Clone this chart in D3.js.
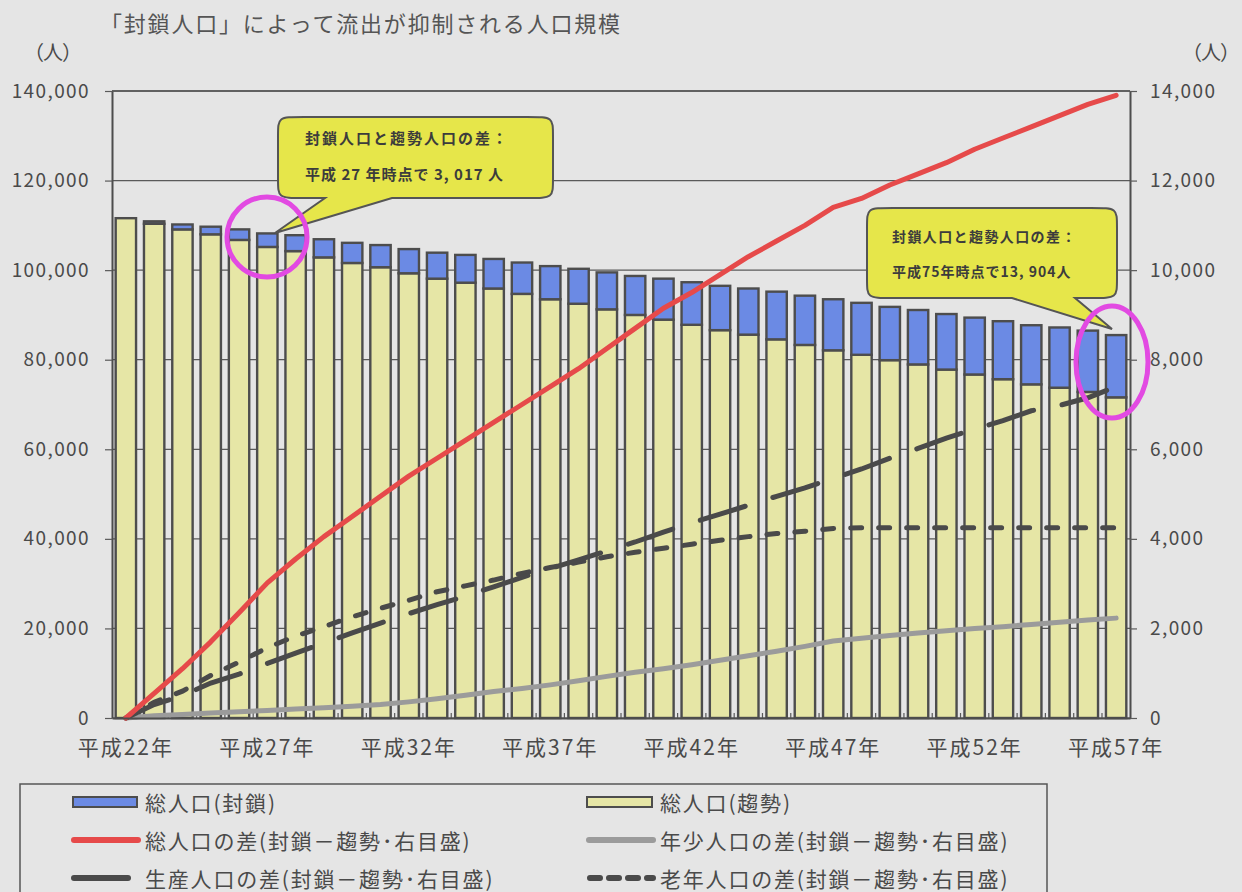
<!DOCTYPE html>
<html lang="ja">
<head>
<meta charset="utf-8">
<script src="https://cdn.jsdelivr.net/npm/d3@7"></script>
<style>
  html, body { margin: 0; padding: 0; background: #e5e5e5; }
  svg { display: block; font-family: "Noto Sans CJK JP", "Noto Sans", sans-serif; }
</style>
</head>
<body>
<svg id="chart" width="1242" height="892"></svg>
<script>
// ---------------- DATA ----------------
const categories = ["平成22年","平成23年","平成24年","平成25年","平成26年","平成27年","平成28年","平成29年","平成30年","平成31年",
  "平成32年","平成33年","平成34年","平成35年","平成36年","平成37年","平成38年","平成39年","平成40年","平成41年",
  "平成42年","平成43年","平成44年","平成45年","平成46年","平成47年","平成48年","平成49年","平成50年","平成51年",
  "平成52年","平成53年","平成54年","平成55年","平成56年","平成57年"];
const xTickLabels = ["平成22年","平成27年","平成32年","平成37年","平成42年","平成47年","平成52年","平成57年"];

// 総人口(封鎖) left axis
const blockedTotal = [111600,110900,110200,109700,109100,108200,107800,106900,106100,105600,
  104700,103900,103400,102500,101700,100900,100300,99500,98700,98100,
  97300,96500,95900,95200,94300,93500,92700,91800,91100,90200,
  89400,88600,87700,87200,86500,85500];
// 総人口(趨勢) left axis
const trendTotal = [111600,110350,109100,108000,106750,105180,104250,102850,101600,100650,
  99300,98100,97200,95900,94700,93500,92500,91250,90000,88950,
  87800,86600,85600,84550,83300,82100,81100,79900,78950,77800,
  76700,75650,74500,73750,72800,71600];
// right axis series
const diffTotal = [0,550,1100,1700,2350,3017,3550,4050,4500,4950,
  5400,5800,6200,6600,7000,7400,7800,8250,8700,9150,
  9500,9900,10300,10650,11000,11400,11600,11900,12150,12400,
  12700,12950,13200,13450,13700,13904];
const diffYouth = [0,50,80,110,140,170,200,230,260,300,
  360,430,510,590,660,740,830,930,1020,1100,
  1190,1290,1390,1490,1600,1720,1780,1840,1900,1950,
  2000,2040,2090,2140,2190,2230];
const diffWorking = [0,300,500,780,980,1220,1450,1670,1900,2120,
  2330,2530,2720,2930,3140,3340,3530,3730,3930,4150,
  4360,4550,4750,4950,5140,5350,5560,5800,6020,6250,
  6450,6640,6860,6980,7150,7400];
const diffElderly = [0,350,600,950,1250,1570,1830,2040,2260,2450,
  2630,2820,2950,3080,3230,3360,3480,3600,3700,3790,
  3880,3970,4050,4120,4170,4230,4250,4250,4250,4250,
  4250,4250,4250,4250,4250,4250];

const leftTicks = [0,20000,40000,60000,80000,100000,120000,140000];
const rightTicks = [0,2000,4000,6000,8000,10000,12000,14000];

const titleText = "「封鎖人口」によって流出が抑制される人口規模";
const unitText = "（人）";
const callout1 = ["封鎖人口と趨勢人口の差：", "平成 27 年時点で 3, 017 人"];
const callout2 = ["封鎖人口と趨勢人口の差：", "平成75年時点で13, 904人"];
const legendLabels = ["総人口(封鎖)","総人口(趨勢)","総人口の差(封鎖－趨勢･右目盛)","年少人口の差(封鎖－趨勢･右目盛)",
  "生産人口の差(封鎖－趨勢･右目盛)","老年人口の差(封鎖－趨勢･右目盛)"];

// ---------------- STYLE ----------------
const C = {
  blue: "#6b8ae4", yellow: "#e6e6a6", outline: "#4d4d4d", red: "#e64a4a",
  gray: "#9b9b9b", dark: "#4a4a4a", grid: "#5a5a5a", text: "#4a4a4a",
  bubble: "#e6e64a", magenta: "#e24ae2"
};

const svg = d3.select("#chart");
const L = 112, R = 1130, T = 91, B = 718;

const x = d3.scaleBand().domain(categories).range([L, R]).paddingInner(0.28).paddingOuter(0.13);
const yL = d3.scaleLinear().domain([0, 140000]).range([B, T]);
const yR = d3.scaleLinear().domain([0, 14000]).range([B, T]);
const cx = c => x(c) + x.bandwidth() / 2;

// title
svg.append("text").attr("x", 100).attr("y", 22).attr("dominant-baseline", "central")
  .attr("font-size", 22).attr("letter-spacing", 1.8).attr("fill", "#555").text(titleText);
svg.append("text").attr("x", 24).attr("y", 51).attr("dominant-baseline", "central")
  .attr("font-size", 20).attr("letter-spacing", -1).attr("fill", C.text).text(unitText);
svg.append("text").attr("x", 1182).attr("y", 51).attr("dominant-baseline", "central")
  .attr("font-size", 20).attr("letter-spacing", -1).attr("fill", C.text).text(unitText);

// gridlines
svg.append("g").selectAll("line").data(leftTicks).join("line")
  .attr("x1", L).attr("x2", R).attr("y1", d => yL(d)).attr("y2", d => yL(d))
  .attr("stroke", C.grid).attr("stroke-width", 1.2);

// bars
const barG = svg.append("g");
barG.selectAll("rect.trend").data(categories).join("rect").attr("class", "trend")
  .attr("x", d => x(d)).attr("width", x.bandwidth())
  .attr("y", (d, i) => yL(trendTotal[i])).attr("height", (d, i) => yL(0) - yL(trendTotal[i]))
  .attr("fill", C.yellow).attr("stroke", C.outline).attr("stroke-width", 2.4);
barG.selectAll("rect.blocked").data(categories).join("rect").attr("class", "blocked")
  .attr("x", d => x(d)).attr("width", x.bandwidth())
  .attr("y", (d, i) => yL(blockedTotal[i]))
  .attr("height", (d, i) => Math.max(0, yL(trendTotal[i]) - yL(blockedTotal[i])))
  .attr("fill", C.blue).attr("stroke", C.outline).attr("stroke-width", 2.4)
  .attr("display", (d, i) => blockedTotal[i] > trendTotal[i] ? null : "none");

// small category ticks at bottom
svg.append("g").selectAll("line").data(categories.slice(1)).join("line")
  .attr("x1", d => x(d) - x.step() * x.paddingInner() / 2)
  .attr("x2", d => x(d) - x.step() * x.paddingInner() / 2)
  .attr("y1", B).attr("y2", B - 5).attr("stroke", C.grid).attr("stroke-width", 1.2);

// lines (right axis)
const lineGen = arr => d3.line().x((d, i) => cx(categories[i])).y(d => yR(d))(arr);
svg.append("path").attr("d", lineGen(diffYouth)).attr("fill", "none")
  .attr("stroke", C.gray).attr("stroke-width", 5).attr("stroke-linejoin", "round").attr("stroke-linecap", "round");
svg.append("path").attr("d", lineGen(diffElderly)).attr("fill", "none")
  .attr("stroke", C.dark).attr("stroke-width", 5).attr("stroke-linecap", "round")
  .attr("stroke-dasharray", "11,17");
svg.append("path").attr("d", lineGen(diffWorking)).attr("fill", "none")
  .attr("stroke", C.dark).attr("stroke-width", 5).attr("stroke-linecap", "round")
  .attr("stroke-dasharray", "47,29");
svg.append("path").attr("d", lineGen(diffTotal)).attr("fill", "none")
  .attr("stroke", C.red).attr("stroke-width", 5).attr("stroke-linejoin", "round").attr("stroke-linecap", "round");

// axes
const axL = svg.append("g").attr("transform", `translate(${L},0)`)
  .call(d3.axisLeft(yL).tickValues(leftTicks).tickFormat(d3.format(",")).tickSize(7).tickSizeOuter(0).tickPadding(15));
const axR = svg.append("g").attr("transform", `translate(${R},0)`)
  .call(d3.axisRight(yR).tickValues(rightTicks).tickFormat(d3.format(",")).tickSize(7).tickSizeOuter(0).tickPadding(13));
[axL, axR].forEach(g => {
  g.select(".domain").attr("stroke", C.outline).attr("stroke-width", 2);
  g.selectAll(".tick line").attr("stroke", C.grid).attr("stroke-width", 1.2);
  g.selectAll("text").attr("font-size", 19).attr("fill", C.text).attr("letter-spacing", 1.4)
    .attr("font-family", "'Noto Sans CJK JP', sans-serif");
});
const axB = svg.append("g").attr("transform", `translate(0,${B})`)
  .call(d3.axisBottom(x).tickValues(xTickLabels).tickSize(0).tickSizeOuter(0));
axB.select(".domain").attr("stroke", C.outline).attr("stroke-width", 2.2);
axB.selectAll("text").attr("y", 30).attr("dy", "0.35em").attr("font-size", 21).attr("fill", C.text)
  .attr("letter-spacing", 2).attr("font-family", "'Noto Sans CJK JP', sans-serif");
// top border
svg.append("line").attr("x1", L).attr("x2", R).attr("y1", T).attr("y2", T)
  .attr("stroke", C.outline).attr("stroke-width", 1.5);

// callouts
function bubble(x0, y0, x1, y1, b1, b2, tx, ty, lines, fs, ls, ly) {
  const rx = 26, ry = 20;
  const p = `M${x0 + rx},${y0} L${x1 - rx},${y0} C${x1},${y0} ${x1},${y0} ${x1},${y0 + ry}
    L${x1},${y1 - ry} C${x1},${y1} ${x1},${y1} ${x1 - rx},${y1} L${b2},${y1} L${tx},${ty} L${b1},${y1}
    L${x0 + rx},${y1} C${x0},${y1} ${x0},${y1} ${x0},${y1 - ry} L${x0},${y0 + ry} C${x0},${y0} ${x0},${y0} ${x0 + rx},${y0} Z`;
  svg.append("path").attr("d", p).attr("fill", C.bubble).attr("stroke", "#555").attr("stroke-width", 2);
  lines.forEach((t, i) => {
    svg.append("text").attr("x", ly[0]).attr("y", ly[1] + i * ly[2]).attr("dominant-baseline", "central")
      .attr("font-size", fs).attr("font-weight", "bold").attr("fill", "#3c3c3c")
      .attr("letter-spacing", ls[i]).text(t);
  });
}
bubble(278, 117, 553, 198, 325, 392, 275, 233, callout1, 15, [2, 1], [305, 137, 36]);
bubble(867, 208, 1117, 298, 1012, 1075, 1112, 329, callout2, 14, [1.4, 1], [892, 236, 35]);

// highlight ellipses
svg.append("ellipse").attr("cx", 267).attr("cy", 237).attr("rx", 40).attr("ry", 40)
  .attr("fill", "none").attr("stroke", C.magenta).attr("stroke-width", 5);
svg.append("ellipse").attr("cx", 1112).attr("cy", 362).attr("rx", 36).attr("ry", 56)
  .attr("fill", "none").attr("stroke", C.magenta).attr("stroke-width", 5);

// legend
svg.append("rect").attr("x", 20).attr("y", 784).attr("width", 1027).attr("height", 130)
  .attr("fill", "none").attr("stroke", "#555").attr("stroke-width", 1.5);
const leg = svg.append("g");
const colX = [72, 587], textX = [145, 660], rowY = [802, 840, 878];
leg.append("rect").attr("x", colX[0] + 1).attr("y", rowY[0] - 5).attr("width", 64).attr("height", 10)
  .attr("fill", C.blue).attr("stroke", C.outline).attr("stroke-width", 2);
leg.append("rect").attr("x", colX[1]).attr("y", rowY[0] - 5).attr("width", 65).attr("height", 10)
  .attr("fill", C.yellow).attr("stroke", C.outline).attr("stroke-width", 2);
leg.append("line").attr("x1", colX[0] + 2).attr("x2", colX[0] + 66).attr("y1", rowY[1]).attr("y2", rowY[1])
  .attr("stroke", C.red).attr("stroke-width", 6).attr("stroke-linecap", "round");
leg.append("line").attr("x1", colX[1] + 2).attr("x2", colX[1] + 66).attr("y1", rowY[1]).attr("y2", rowY[1])
  .attr("stroke", C.gray).attr("stroke-width", 6).attr("stroke-linecap", "round");
leg.append("line").attr("x1", colX[0] + 2).attr("x2", colX[0] + 56).attr("y1", rowY[2]).attr("y2", rowY[2])
  .attr("stroke", C.dark).attr("stroke-width", 6).attr("stroke-linecap", "round");
leg.append("line").attr("x1", colX[1] + 3).attr("x2", colX[1] + 66).attr("y1", rowY[2]).attr("y2", rowY[2])
  .attr("stroke", C.dark).attr("stroke-width", 6).attr("stroke-linecap", "round").attr("stroke-dasharray", "10,9");
legendLabels.forEach((t, i) => {
  leg.append("text").attr("x", textX[i % 2]).attr("y", rowY[Math.floor(i / 2)]).attr("dominant-baseline", "central")
    .attr("font-size", 21).attr("fill", C.text).attr("letter-spacing", 1.8).text(t);
});
</script>
</body>
</html>
